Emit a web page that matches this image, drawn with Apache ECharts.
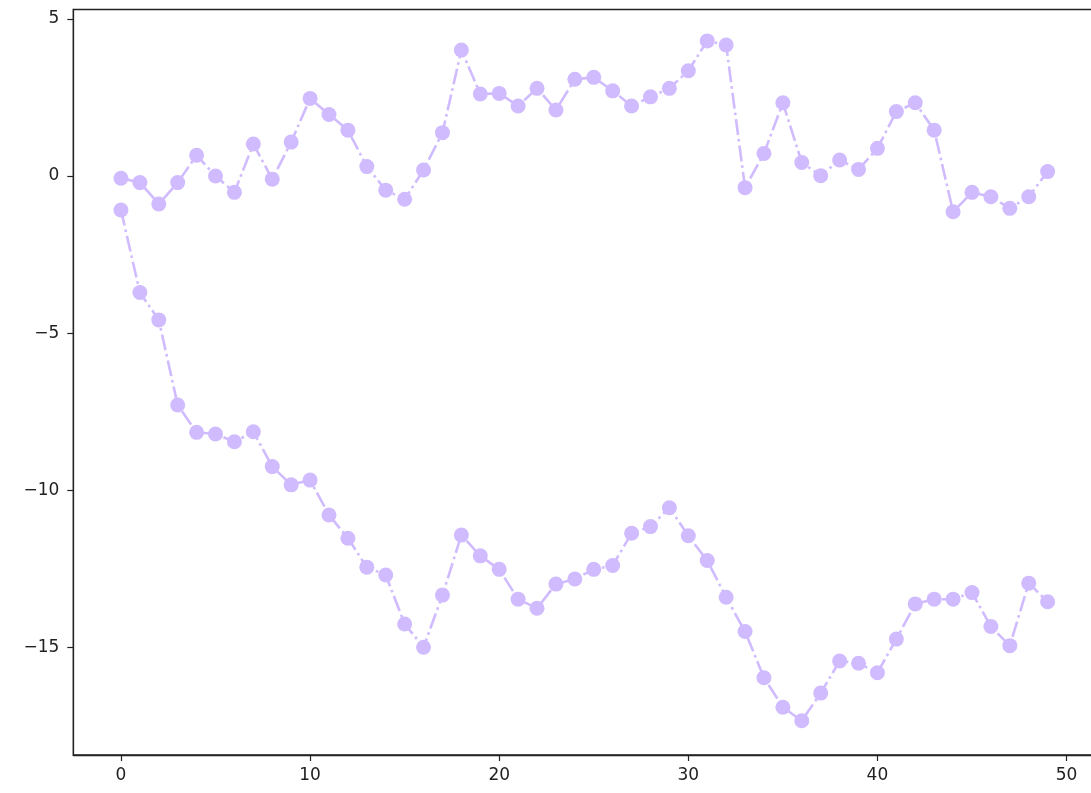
<!DOCTYPE html>
<html>
<head>
<meta charset="utf-8">
<script src="https://cdn.jsdelivr.net/npm/echarts@6/dist/echarts.min.js"></script>
<style>
  html, body { margin: 0; padding: 0; background: #fff; }
  #chart { width: 1091px; height: 793px; }
</style>
</head>
<body>
<div id="chart"></div>
<script>
// Two random-walk style series sharing the x positions 0..49
const xValues = Array.from({ length: 50 }, (_, i) => i);

const upperWalk = [
  -0.07, -0.21, -0.89, -0.21, 0.66, 0.00, -0.52, 1.02, -0.10, 1.08,
  2.47, 1.96, 1.46, 0.30, -0.45, -0.74, 0.19, 1.38, 4.01, 2.61,
  2.63, 2.23, 2.79, 2.10, 3.08, 3.14, 2.71, 2.23, 2.52, 2.79,
  3.35, 4.30, 4.17, -0.37, 0.72, 2.33, 0.43, 0.01, 0.51, 0.21,
  0.88, 2.05, 2.33, 1.46, -1.14, -0.52, -0.66, -1.03, -0.66, 0.14
];

const lowerWalk = [
  -1.08, -3.71, -4.58, -7.29, -8.16, -8.21, -8.46, -8.14, -9.25, -9.83,
  -9.68, -10.79, -11.53, -12.45, -12.70, -14.26, -15.00, -13.34, -11.43, -12.09,
  -12.52, -13.47, -13.76, -12.99, -12.83, -12.52, -12.40, -11.37, -11.16, -10.56,
  -11.45, -12.24, -13.41, -14.50, -15.97, -16.91, -17.34, -16.46, -15.44, -15.51,
  -15.81, -14.74, -13.62, -13.47, -13.47, -13.26, -14.34, -14.95, -12.96, -13.55
];

const xTicks = [0, 10, 20, 30, 40, 50];
const yTicks = [-15, -10, -5, 0, 5];

const lineColor = '#d0bbff';
const axisColor = '#222222';
const fontFamily = '"DejaVu Sans", sans-serif';

function walkSeries(values) {
  return {
    type: 'line',
    data: xValues.map((x, i) => [x, values[i]]),
    symbol: 'circle',
    symbolSize: 15,
    showSymbol: true,
    itemStyle: { color: lineColor },
    lineStyle: { color: lineColor, width: 2.6, type: [16, 4, 2.6, 4] },
    animation: false,
    z: 2
  };
}

const chart = echarts.init(document.getElementById('chart'), null, { renderer: 'canvas' });
chart.setOption({
  backgroundColor: '#ffffff',
  animation: false,
  // the frame runs a few pixels past the right edge of the page
  grid: {
    left: 73.3, top: 9.5, width: 1022, height: 745.5,
    containLabel: false, outerBoundsMode: 'none',
    show: true, borderColor: axisColor, borderWidth: 1.3, backgroundColor: 'transparent'
  },
  xAxis: {
    type: 'value',
    min: -2.52, max: 51.52,
    splitLine: { show: false },
    axisLine: { show: true, onZero: false, lineStyle: { color: axisColor, width: 1.3 } },
    axisTick: { show: true, length: 6, lineStyle: { color: axisColor, width: 1.2 }, customValues: xTicks },
    axisLabel: {
      customValues: xTicks, margin: 12, color: axisColor,
      fontFamily: fontFamily, fontSize: 17, formatter: v => String(v)
    }
  },
  yAxis: {
    type: 'value',
    min: -18.43, max: 5.30,
    splitLine: { show: false },
    axisLine: { show: true, onZero: false, lineStyle: { color: axisColor, width: 1.3 } },
    axisTick: { show: true, length: 6, lineStyle: { color: axisColor, width: 1.2 }, customValues: yTicks },
    axisLabel: {
      customValues: yTicks, margin: 14, color: axisColor,
      fontFamily: fontFamily, fontSize: 17,
      formatter: v => (v < 0 ? '\u2212' + Math.abs(v) : String(v))
    }
  },
  series: [walkSeries(upperWalk), walkSeries(lowerWalk)]
});
</script>
</body>
</html>
